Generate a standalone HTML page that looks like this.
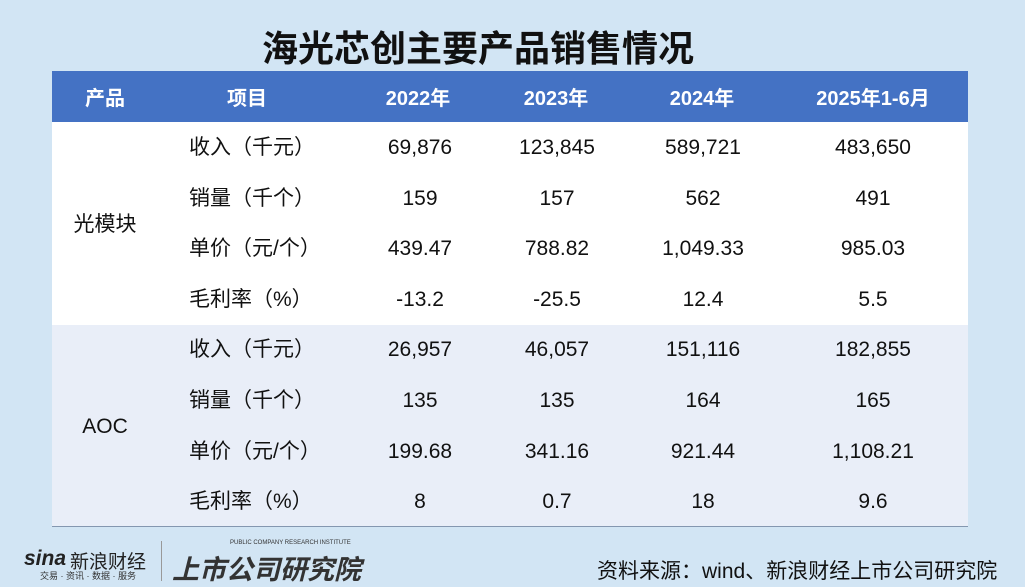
<!DOCTYPE html>
<html><head><meta charset="utf-8"><style>
body{margin:0;width:1025px;height:585px;background:#d2e5f4;position:relative;overflow:hidden;font-family:"Liberation Sans","Noto Sans CJK SC",sans-serif;}
.a{position:absolute;white-space:nowrap;}
.c{transform:translateX(-50%);}
.t{font-size:21px;color:#111;line-height:24px;}
.h{font-size:20px;color:#fff;font-weight:bold;line-height:24px;}
</style></head><body>
<div class="a c" style="left:478px;top:20px;font-size:36px;font-weight:bold;color:#111;">海光芯创主要产品销售情况</div>
<div class="a" style="left:52px;top:71px;width:916px;height:51px;background:#4472c4;"></div>
<div class="a" style="left:52px;top:122px;width:916px;height:203px;background:#fff;"></div>
<div class="a" style="left:52px;top:325px;width:916px;height:202px;background:#e9eef8;"></div>
<div class="a" style="left:52px;top:526px;width:916px;height:1px;background:#8497b0;"></div>
<div class="a h c" style="left:105px;top:87px;">产品</div>
<div class="a h c" style="left:247px;top:87px;">项目</div>
<div class="a h c" style="left:418px;top:87px;">2022年</div>
<div class="a h c" style="left:556px;top:87px;">2023年</div>
<div class="a h c" style="left:702px;top:87px;">2024年</div>
<div class="a h c" style="left:873px;top:87px;">2025年1-6月</div>
<div class="a t c" style="left:105px;top:213px;">光模块</div>
<div class="a t c" style="left:105px;top:415px;">AOC</div>
<div id="rows"></div>
<script>
var d=[["收入（千元）","69,876","123,845","589,721","483,650"],["销量（千个）","159","157","562","491"],["单价（元/个）","439.47","788.82","1,049.33","985.03"],["毛利率（%）","-13.2","-25.5","12.4","5.5"],["收入（千元）","26,957","46,057","151,116","182,855"],["销量（千个）","135","135","164","165"],["单价（元/个）","199.68","341.16","921.44","1,108.21"],["毛利率（%）","8","0.7","18","9.6"]];
var cx=[420,557,703,873],h="";
d.forEach(function(r,i){var y=136+i*50.6;
h+='<div class="a t" style="left:189px;top:'+y+'px">'+r[0]+'</div>';
for(var j=1;j<5;j++)h+='<div class="a t c" style="left:'+cx[j-1]+'px;top:'+y+'px">'+r[j]+'</div>';});
document.getElementById("rows").innerHTML=h;
</script>
<div class="a" style="left:24px;top:547px;font-size:21px;font-weight:bold;font-style:italic;color:#222;">sina</div>
<div class="a" style="left:70px;top:547px;font-size:19px;color:#222;">新浪财经</div>
<div class="a" style="left:40px;top:569px;font-size:9px;color:#333;">交易 · 资讯 · 数据 · 服务</div>
<div class="a" style="left:161px;top:541px;width:1px;height:40px;background:#999;"></div>
<div class="a" style="left:230px;top:540px;font-size:6px;color:#333;">PUBLIC COMPANY RESEARCH INSTITUTE</div>
<div class="a" style="left:172px;top:548px;font-size:27px;font-weight:bold;font-style:italic;color:#333;">上市公司研究院</div>
<div class="a" style="left:597px;top:555px;font-size:21px;color:#111;">资料来源：wind、新浪财经上市公司研究院</div>
</body></html>
